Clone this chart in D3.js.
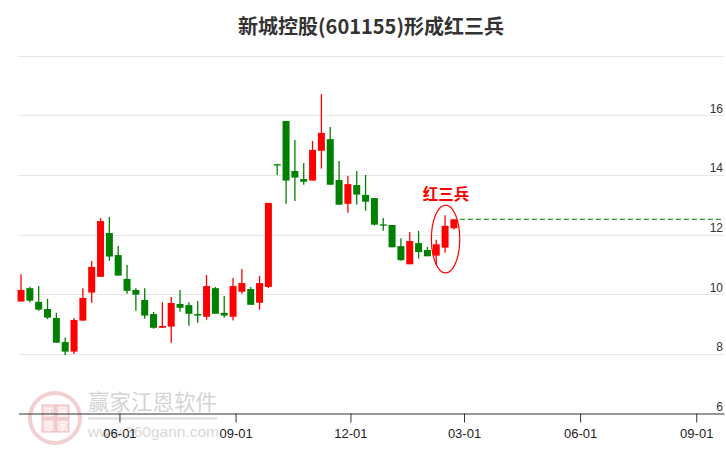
<!DOCTYPE html>
<html><head><meta charset="utf-8">
<script src="https://cdn.jsdelivr.net/npm/d3@7"></script>
<style>
html,body{margin:0;padding:0;background:#fff;}
svg{display:block;}
</style></head>
<body>
<svg id="c" width="726" height="450"></svg>
<script>
// ---- data (weekly candles) ----
const dates = ["2024-03-15","2024-03-22","2024-03-29","2024-04-05","2024-04-12","2024-04-19","2024-04-26","2024-05-03","2024-05-10","2024-05-17",
"2024-05-24","2024-05-31","2024-06-07","2024-06-14","2024-06-21","2024-06-28","2024-07-05","2024-07-12","2024-07-19","2024-07-26",
"2024-08-02","2024-08-09","2024-08-16","2024-08-23","2024-08-30","2024-09-06","2024-09-13","2024-09-20","2024-09-27","2024-10-04",
"2024-10-11","2024-10-18","2024-10-25","2024-11-01","2024-11-08","2024-11-15","2024-11-22","2024-11-29","2024-12-06","2024-12-13",
"2024-12-20","2024-12-27","2025-01-03","2025-01-10","2025-01-17","2025-01-24","2025-01-31","2025-02-07","2025-02-14","2025-02-21"];
const open  = [9.75,10.20,9.74,9.50,9.20,8.39,8.07,9.11,10.05,10.58, 12.05,11.31,10.51,10.14,9.80,9.33,8.87,8.91,9.67,9.63,
 9.33,9.24,10.20,9.37,9.24,10.08,10.17,9.71,10.24,14.36, 15.81,14.13,13.86,13.81,14.81,15.20,13.83,13.03,13.66,13.33,
 13.22,12.34,12.32,11.61,11.00,11.71,11.48,11.29,11.56,12.21];
const high  = [10.67,10.25,10.27,9.84,9.37,8.54,9.20,10.20,11.11,12.55, 12.59,11.61,10.98,10.20,10.20,9.40,9.73,9.90,10.14,9.73,
 9.77,10.64,10.24,9.94,10.54,10.84,10.24,10.61,13.06,14.36, 15.81,15.17,14.40,15.14,16.71,15.61,14.47,13.96,14.13,14.00,
 13.22,12.55,12.32,11.87,12.08,12.12,11.58,11.82,12.65,12.51];
const low   = [9.75,9.73,9.44,9.16,8.37,7.96,7.99,9.11,9.71,10.58, 11.12,10.62,10.01,9.44,9.17,8.84,8.87,8.37,9.41,8.94,
 9.04,9.14,9.34,9.21,9.11,10.01,9.64,9.48,10.20,14.00, 13.03,13.12,13.67,13.81,14.21,13.67,13.00,12.73,13.00,12.80,
 12.30,12.13,11.57,11.12,11.00,11.19,11.27,10.98,11.39,12.17];
const close = [10.14,9.78,9.48,9.21,8.37,8.07,9.13,9.87,10.91,12.45, 11.26,10.62,10.11,9.98,9.28,8.87,8.93,9.70,9.54,9.34,
 9.28,10.27,9.34,9.28,10.27,10.37,9.64,10.37,13.06,14.36, 13.81,13.91,13.77,14.84,15.41,13.67,13.00,13.69,13.34,13.10,
 12.33,12.31,11.57,11.14,11.78,11.41,11.27,11.67,12.29,12.51];
const xTickDates = ["2024-06-01","2024-09-01","2024-12-01","2025-03-01","2025-06-01","2025-09-01"];
const yGridValues = [8,10,12,14,16,18];
const yLabelValues = [6,8,10,12,14,16];
const xDomain = ["2024-03-13","2025-09-23"];
const yDomain = [6,18];
const titleText = "新城控股(601155)形成红三兵";
const patternLabel = "红三兵";
const patternCount = 3;

// ---- setup ----
const parse = d3.timeParse("%Y-%m-%d");
const svg = d3.select("#c");
const L = 18.5, R = 724, B = 413.3, T = 55.7;
const x = d3.scaleTime().domain(xDomain.map(parse)).range([L, R]);
const y = d3.scaleLinear().domain(yDomain).range([B, T]);
const RED = "#ff0000", GREEN = "#008000";
const data = dates.map((d,i)=>({date:parse(d),o:open[i],h:high[i],l:low[i],c:close[i]}));

// title
svg.append("text").attr("x",371).attr("y",34).attr("text-anchor","middle")
  .attr("font-family","'Noto Sans CJK SC','Noto Sans',sans-serif").attr("font-weight","bold")
  .attr("font-size",20).attr("fill","#333").text(titleText);

// watermark
const wm = svg.append("g");
wm.append("circle").attr("cx",55).attr("cy",418).attr("r",25).attr("fill","none").attr("stroke","#f2d0d0").attr("stroke-width",4);
const boxes = [["江",42,405],["赢",56,405],["恩",42,419],["家",56,419]];
boxes.forEach(([ch,bx,by])=>{
  wm.append("rect").attr("x",bx).attr("y",by).attr("width",13).attr("height",13).attr("fill","#f7dcdc").attr("stroke","#eebcbc").attr("stroke-width",1);
  wm.append("text").attr("x",bx+6.5).attr("y",by+10.5).attr("text-anchor","middle").attr("font-size",10)
    .attr("font-family","'Noto Sans CJK SC',sans-serif").attr("fill","#ffffff").text(ch);
});
wm.append("text").attr("x",88).attr("y",410).attr("font-size",21.5).attr("fill","#d4d4d4")
  .attr("font-family","'Noto Sans CJK SC',sans-serif").text("赢家江恩软件");
wm.append("line").attr("x1",88).attr("x2",217).attr("y1",418.5).attr("y2",418.5).attr("stroke","#dddddd").attr("stroke-width",2);
wm.append("text").attr("x",88).attr("y",437).attr("font-size",15.5).attr("fill","#d8d8d8")
  .attr("font-family","'Liberation Sans',Arial,sans-serif").text("www.360gann.com");

// gridlines
svg.append("g").selectAll("line").data(yGridValues).join("line")
  .attr("x1",L).attr("x2",R).attr("y1",d=>Math.round(y(d))+0.5).attr("y2",d=>Math.round(y(d))+0.5)
  .attr("stroke","#e6e6e6").attr("stroke-width",1);

// y labels via axis
const yAxis = svg.append("g").attr("transform",`translate(${R-1},0)`)
  .call(d3.axisLeft(y).tickValues(yLabelValues).tickFormat(d3.format("d")).tickSize(0));
yAxis.select(".domain").remove();
yAxis.selectAll("text").attr("x",0).attr("dy","-3").attr("text-anchor","end")
  .attr("font-family","'Liberation Sans',Arial,sans-serif").attr("font-size",12).attr("fill","#333");

// x axis
const xAxis = svg.append("g").attr("transform",`translate(0,${Math.round(B)+0.5})`)
  .call(d3.axisBottom(x).tickValues(xTickDates.map(parse)).tickFormat(d3.timeFormat("%m-%d")).tickSize(9).tickSizeOuter(0).tickPadding(6));
xAxis.select(".domain").attr("stroke","#333");
xAxis.selectAll(".tick line").attr("stroke","#333");
xAxis.selectAll("text").attr("font-family","'Liberation Sans',Arial,sans-serif").attr("font-size",13).attr("fill","#222");

// candles
const bw = 7;
const cg = svg.append("g");
data.forEach(d=>{
  const col = d.c > d.o ? RED : GREEN;
  const cx = x(d.date);
  cg.append("line").attr("x1",cx).attr("x2",cx).attr("y1",y(d.h)).attr("y2",y(d.l)).attr("stroke",col).attr("stroke-width",1.3);
  const top = y(Math.max(d.o,d.c)), bot = y(Math.min(d.o,d.c));
  cg.append("rect").attr("x",cx-bw/2).attr("y",top).attr("width",bw).attr("height",Math.max(1.3,bot-top)).attr("fill",col);
});

// pattern annotation
const last = data.slice(-patternCount);
const px = d3.mean(last,d=>x(d.date));
const hi = d3.max(last,d=>d.h), lo = d3.min(last,d=>d.l);
const ecy = (y(hi)+y(lo))/2 - 1;
const ery = (y(lo)-y(hi))/2 + 9;
svg.append("ellipse").attr("cx",px+0.5).attr("cy",ecy).attr("rx",14.2).attr("ry",ery)
  .attr("fill","none").attr("stroke",RED).attr("stroke-width",1.2);
svg.append("text").attr("x",px+1).attr("y",y(hi)-15.5).attr("text-anchor","middle")
  .attr("font-family","'Noto Sans CJK SC',sans-serif").attr("font-weight","bold").attr("font-size",15.5)
  .attr("fill",RED).text(patternLabel);

// last close dashed line
const lc = data[data.length-1];
svg.append("line").attr("x1",x(lc.date)+6).attr("x2",R).attr("y1",y(lc.c)).attr("y2",y(lc.c))
  .attr("stroke",GREEN).attr("stroke-width",1).attr("stroke-dasharray","5,3");
</script>
</body></html>
